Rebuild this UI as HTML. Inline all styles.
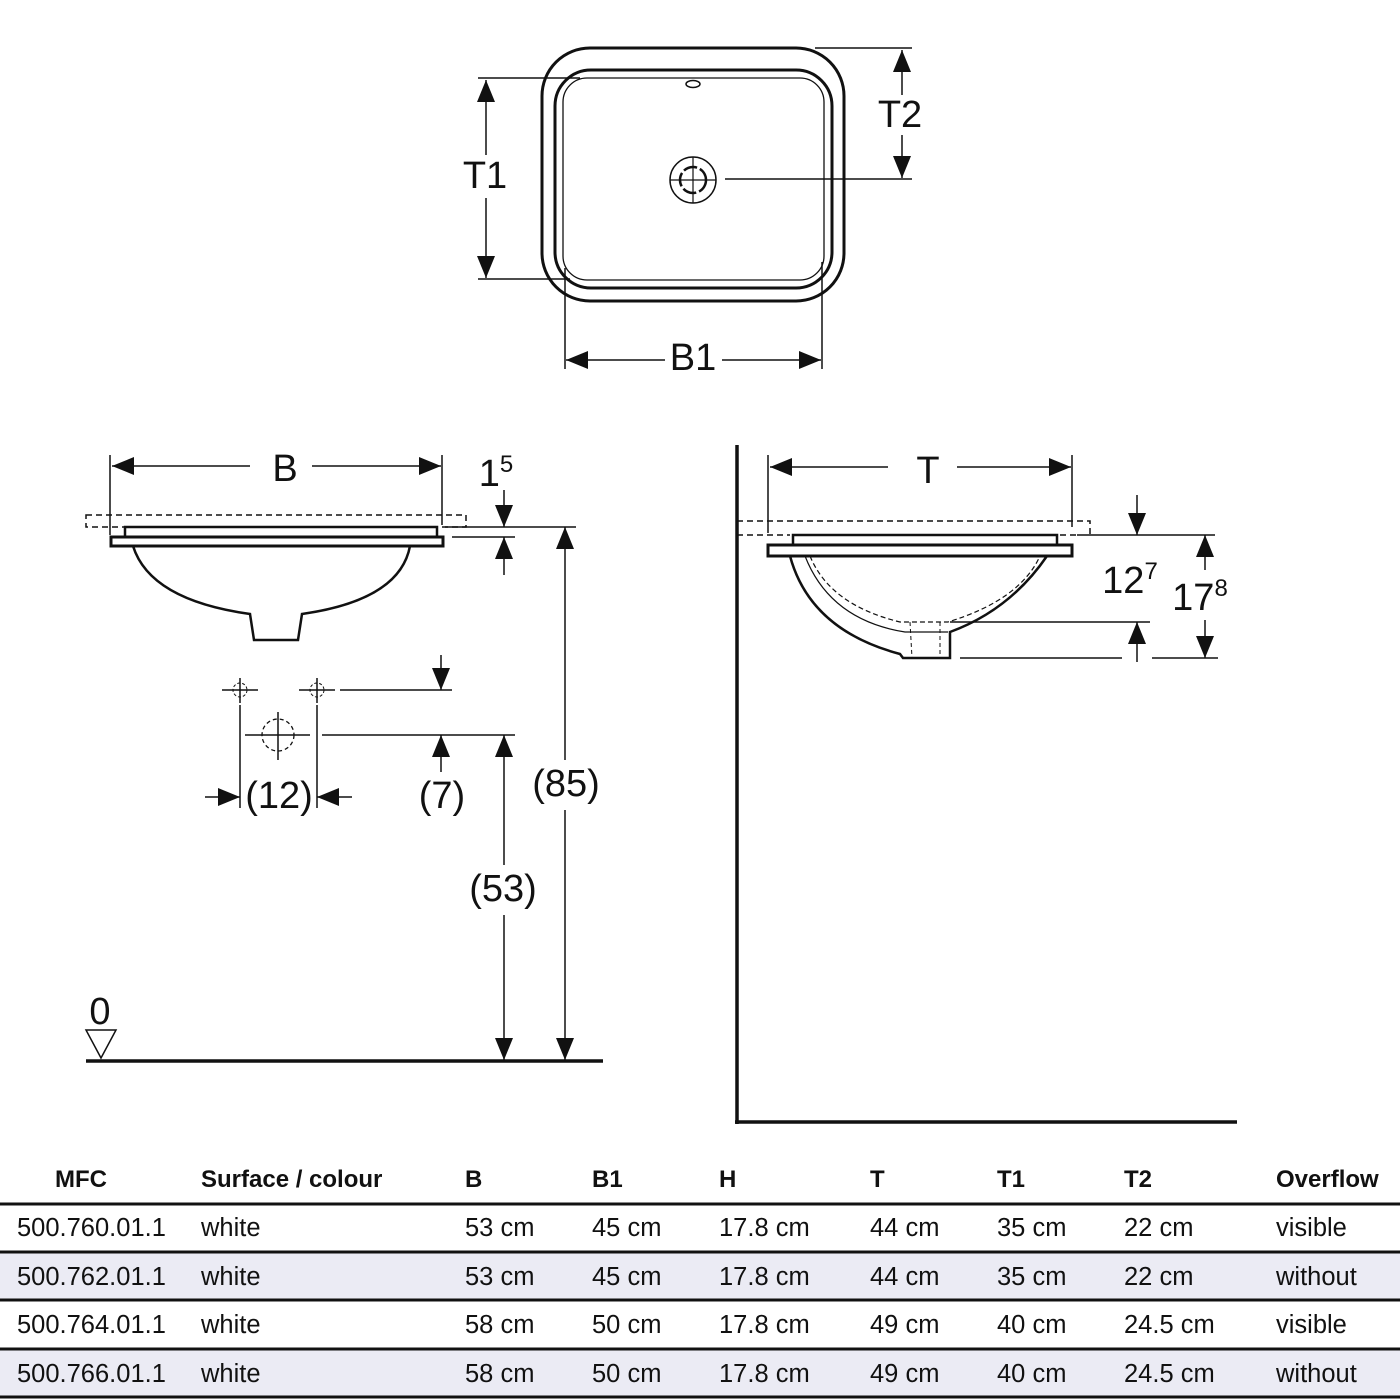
<!DOCTYPE html>
<html><head><meta charset="utf-8"><style>
html,body{margin:0;padding:0;background:#fff}
svg{display:block}
text{font-family:"Liberation Sans",sans-serif;fill:#111}
.l{font-size:38px}
.t{font-size:25.5px}
.h{font-size:24px;font-weight:bold}
</style></head><body>
<svg width="1400" height="1400" viewBox="0 0 1400 1400" xmlns="http://www.w3.org/2000/svg">
<g fill="none" stroke="#111">
<rect x="542" y="48" width="302" height="253" rx="48" stroke-width="3"/>
<rect x="555" y="70" width="277" height="218" rx="36" stroke-width="3"/>
<rect x="563" y="78" width="261" height="202" rx="24" stroke-width="1.3"/>
<ellipse cx="693" cy="84" rx="7" ry="3.5" stroke-width="1.5"/>
<circle cx="693" cy="180" r="23" stroke-width="1.5"/>
<circle cx="693" cy="180" r="13" stroke-width="2.5" stroke-dasharray="14 3"/>
<line x1="670" y1="180" x2="716" y2="180" stroke-width="1.2"/>
<line x1="693" y1="157" x2="693" y2="203" stroke-width="1.2"/>
<g stroke-width="1.5">
<line x1="478" y1="78" x2="580" y2="78"/>
<line x1="478" y1="279" x2="570" y2="279"/>
<line x1="486" y1="80" x2="486" y2="155"/><line x1="486" y1="198" x2="486" y2="278"/>
<line x1="815" y1="48" x2="912" y2="48"/>
<line x1="725" y1="179" x2="912" y2="179"/>
<line x1="902" y1="50" x2="902" y2="95"/><line x1="902" y1="135" x2="902" y2="178"/>
<line x1="565" y1="268" x2="565" y2="369"/>
<line x1="822" y1="262" x2="822" y2="369"/>
<line x1="566" y1="360" x2="665" y2="360"/><line x1="722" y1="360" x2="821" y2="360"/>
</g>
<g stroke-width="1.5">
<line x1="110" y1="455" x2="110" y2="535"/>
<line x1="442" y1="455" x2="442" y2="525"/>
<line x1="112" y1="466" x2="250" y2="466"/><line x1="312" y1="466" x2="441" y2="466"/>
<rect x="86" y="515" width="380" height="12" stroke-dasharray="6 4"/>
<line x1="445" y1="527" x2="576" y2="527"/>
<line x1="452" y1="537" x2="515" y2="537"/>
<line x1="504" y1="490" x2="504" y2="527"/><line x1="504" y1="537" x2="504" y2="575"/>
<line x1="565" y1="527" x2="565" y2="760"/><line x1="565" y1="810" x2="565" y2="1060"/>
<line x1="504" y1="735" x2="504" y2="865"/><line x1="504" y1="915" x2="504" y2="1060"/>
<line x1="340" y1="690" x2="452" y2="690"/>
<line x1="322" y1="735" x2="515" y2="735"/>
<line x1="441" y1="655" x2="441" y2="690"/><line x1="441" y1="735" x2="441" y2="772"/>
<line x1="240" y1="705" x2="240" y2="808"/>
<line x1="317" y1="705" x2="317" y2="808"/>
<line x1="205" y1="797" x2="240" y2="797"/><line x1="317" y1="797" x2="352" y2="797"/>
<line x1="222" y1="690" x2="258" y2="690"/><line x1="240" y1="678" x2="240" y2="703"/>
<line x1="299" y1="690" x2="335" y2="690"/><line x1="317" y1="678" x2="317" y2="703"/>
<line x1="245" y1="735" x2="310" y2="735"/><line x1="278" y1="712" x2="278" y2="760"/>
</g>
<circle cx="240" cy="690" r="7" stroke-width="1" stroke-dasharray="3 2"/>
<circle cx="317" cy="690" r="7" stroke-width="1" stroke-dasharray="3 2"/>
<circle cx="278" cy="735" r="16" stroke-width="1.3" stroke-dasharray="4 3"/>
<rect x="125" y="527" width="312" height="10" stroke-width="2.5"/>
<rect x="111" y="537" width="332" height="9" stroke-width="3"/>
<path d="M133 546 Q150 600 250 614 L254 640 L298 640 L302 614 Q400 600 410 546" stroke-width="2.5"/>
<line x1="86" y1="1061" x2="603" y2="1061" stroke-width="3.5"/>
<path d="M86 1030 L116 1030 L101 1058 Z" stroke-width="1.5"/>
<line x1="737" y1="445" x2="737" y2="1124" stroke-width="3.5"/>
<line x1="735" y1="1122" x2="1237" y2="1122" stroke-width="3.5"/>
<g stroke-width="1.5">
<line x1="768" y1="455" x2="768" y2="533"/>
<line x1="1072" y1="455" x2="1072" y2="527"/>
<line x1="770" y1="467" x2="888" y2="467"/><line x1="957" y1="467" x2="1071" y2="467"/>
<path d="M737 521 L1090 521 L1090 535 M737 535 L790 535 M1060 535 L1077 535" stroke-dasharray="6 4"/>
<line x1="1077" y1="535" x2="1215" y2="535"/>
<line x1="950" y1="622" x2="1150" y2="622"/>
<line x1="960" y1="658" x2="1122" y2="658"/><line x1="1152" y1="658" x2="1218" y2="658"/>
<line x1="1137" y1="495" x2="1137" y2="535"/><line x1="1137" y1="622" x2="1137" y2="662"/>
<line x1="1205" y1="535" x2="1205" y2="570"/><line x1="1205" y1="620" x2="1205" y2="658"/>
</g>
<rect x="793" y="535" width="264" height="10" stroke-width="2.5"/>
<rect x="768" y="545" width="304" height="11" stroke-width="3"/>
<path d="M790 556 Q810 630 900 654 L903 658 L950 658 L950 632 Q1010 610 1047 556" stroke-width="2.5"/>
<path d="M805 556 Q830 620 905 632 L948 632" stroke-width="1.2"/>
<path d="M810 556 Q830 605 900 622 L948 622 Q1020 600 1040 556" stroke-width="1.2" stroke-dasharray="5 3"/>
<path d="M910 622 L912 658 M940 622 L940 658" stroke-width="1" stroke-dasharray="4 3"/>
</g>
<g fill="#111">
<polygon points="486,80 477,102 495,102"/><polygon points="486,278 477,256 495,256"/>
<polygon points="902,50 893,72 911,72"/><polygon points="902,178 893,156 911,156"/>
<polygon points="566,360 588,351 588,369"/><polygon points="821,360 799,351 799,369"/>
<polygon points="112,466 134,457 134,475"/><polygon points="441,466 419,457 419,475"/>
<polygon points="504,527 495,505 513,505"/><polygon points="504,537 495,559 513,559"/>
<polygon points="565,527 556,549 574,549"/><polygon points="565,1060 556,1038 574,1038"/>
<polygon points="504,735 495,757 513,757"/><polygon points="504,1060 495,1038 513,1038"/>
<polygon points="441,690 432,668 450,668"/><polygon points="441,735 432,757 450,757"/>
<polygon points="240,797 218,788 218,806"/><polygon points="317,797 339,788 339,806"/>
<polygon points="770,467 792,458 792,476"/><polygon points="1071,467 1049,458 1049,476"/>
<polygon points="1137,535 1128,513 1146,513"/><polygon points="1137,622 1128,644 1146,644"/>
<polygon points="1205,535 1196,557 1214,557"/><polygon points="1205,658 1196,636 1214,636"/>
</g>
<g class="l" text-anchor="middle">
<text x="485" y="188">T1</text>
<text x="900" y="127">T2</text>
<text x="693" y="370">B1</text>
<text x="285" y="481">B</text>
<text x="496" y="486">1<tspan font-size="24" dy="-14">5</tspan></text>
<text x="566" y="796">(85)</text>
<text x="503" y="901">(53)</text>
<text x="442" y="808">(7)</text>
<text x="279" y="808">(12)</text>
<text x="100" y="1024">0</text>
<text x="928" y="483">T</text>
<text x="1130" y="593">12<tspan font-size="24" dy="-14">7</tspan></text>
<text x="1200" y="610">17<tspan font-size="24" dy="-14">8</tspan></text>
</g>
<rect x="0" y="1252" width="1400" height="48" fill="#ebebf4"/>
<rect x="0" y="1349" width="1400" height="48" fill="#ebebf4"/>
<g stroke="#111" stroke-width="3">
<line x1="0" y1="1204" x2="1400" y2="1204"/>
<line x1="0" y1="1252" x2="1400" y2="1252"/>
<line x1="0" y1="1300" x2="1400" y2="1300"/>
<line x1="0" y1="1349" x2="1400" y2="1349"/>
<line x1="0" y1="1397" x2="1400" y2="1397"/>
</g>
<g class="h">
<text x="55" y="1187">MFC</text><text x="201" y="1187">Surface / colour</text><text x="465" y="1187">B</text>
<text x="592" y="1187">B1</text><text x="719" y="1187">H</text><text x="870" y="1187">T</text>
<text x="997" y="1187">T1</text><text x="1124" y="1187">T2</text><text x="1276" y="1187">Overflow</text>
</g>
<g class="t">
<text x="17" y="1236">500.760.01.1</text><text x="201" y="1236">white</text><text x="465" y="1236">53 cm</text><text x="592" y="1236">45 cm</text><text x="719" y="1236">17.8 cm</text><text x="870" y="1236">44 cm</text><text x="997" y="1236">35 cm</text><text x="1124" y="1236">22 cm</text><text x="1276" y="1236">visible</text>
<text x="17" y="1285">500.762.01.1</text><text x="201" y="1285">white</text><text x="465" y="1285">53 cm</text><text x="592" y="1285">45 cm</text><text x="719" y="1285">17.8 cm</text><text x="870" y="1285">44 cm</text><text x="997" y="1285">35 cm</text><text x="1124" y="1285">22 cm</text><text x="1276" y="1285">without</text>
<text x="17" y="1333">500.764.01.1</text><text x="201" y="1333">white</text><text x="465" y="1333">58 cm</text><text x="592" y="1333">50 cm</text><text x="719" y="1333">17.8 cm</text><text x="870" y="1333">49 cm</text><text x="997" y="1333">40 cm</text><text x="1124" y="1333">24.5 cm</text><text x="1276" y="1333">visible</text>
<text x="17" y="1382">500.766.01.1</text><text x="201" y="1382">white</text><text x="465" y="1382">58 cm</text><text x="592" y="1382">50 cm</text><text x="719" y="1382">17.8 cm</text><text x="870" y="1382">49 cm</text><text x="997" y="1382">40 cm</text><text x="1124" y="1382">24.5 cm</text><text x="1276" y="1382">without</text>
</g>
</svg>
</body></html>
